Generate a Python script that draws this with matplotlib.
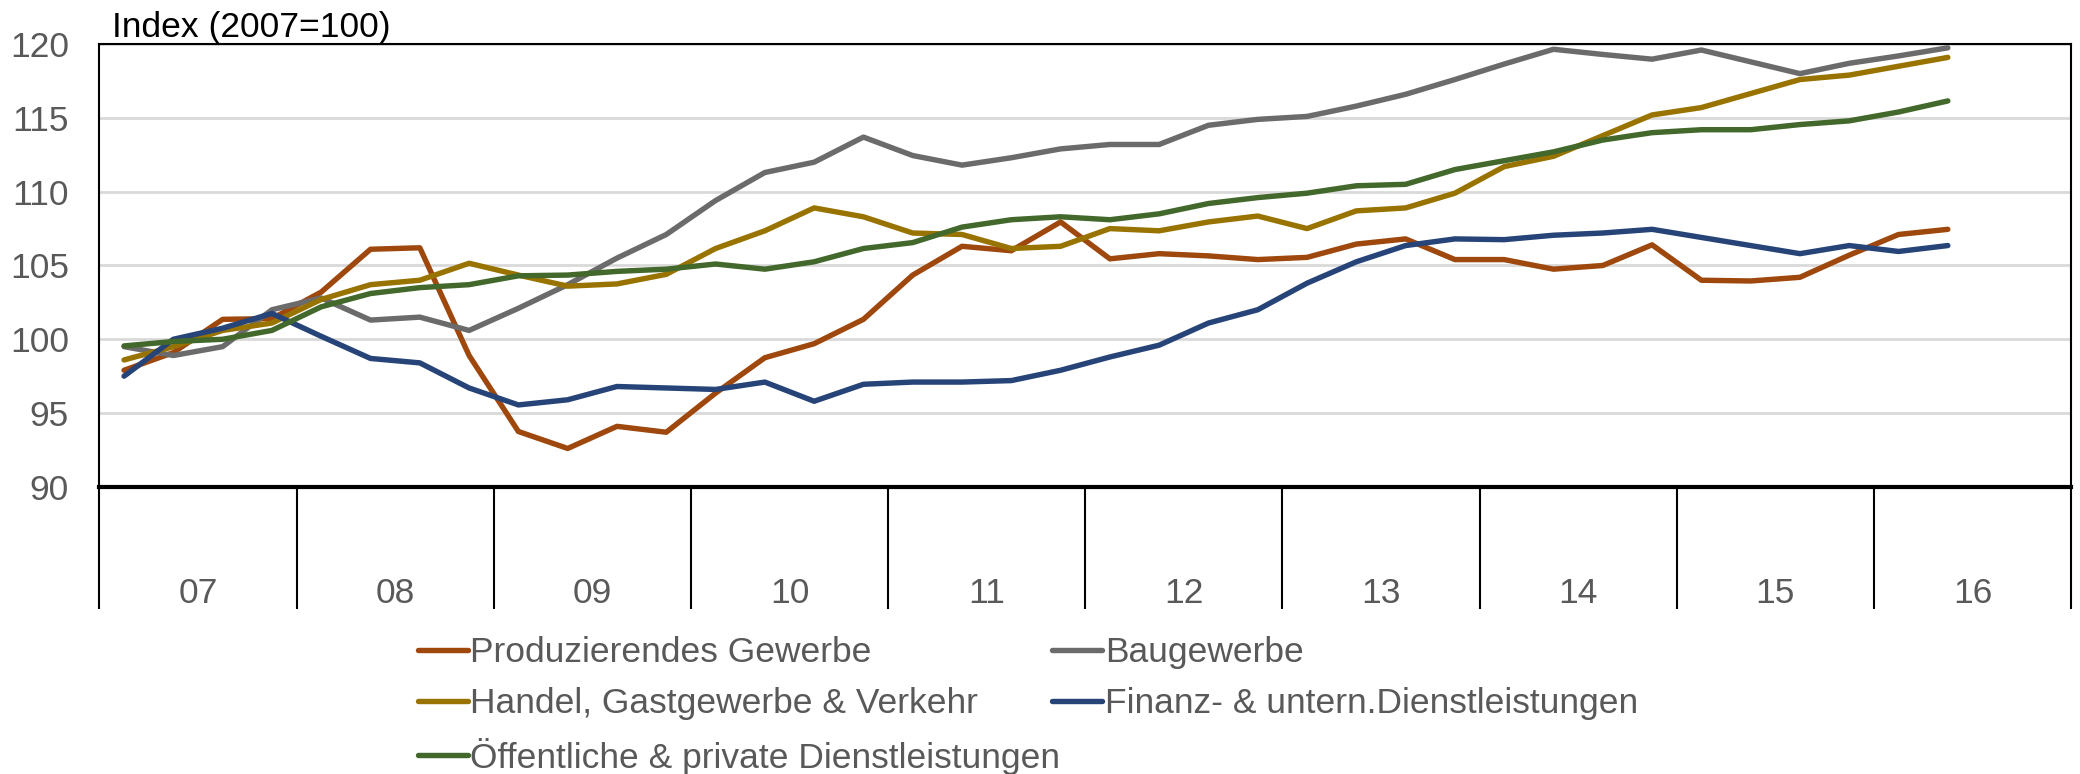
import numpy as np
import matplotlib.pyplot as plt

plt.rcParams['font.family'] = ['Liberation Sans', 'DejaVu Sans']

# Quartalswerte 2007Q1 - 2016Q2, Index 2007=100
jahre = ['07', '08', '09', '10', '11', '12', '13', '14', '15', '16']

produzierendes = [97.9, 99.1, 101.35, 101.4, 103.2, 106.1, 106.2, 98.9, 93.75, 92.6,
                  94.1, 93.7, 96.35, 98.75, 99.7, 101.35, 104.35, 106.3, 106.0, 107.95,
                  105.45, 105.8, 105.65, 105.4, 105.55, 106.45, 106.8, 105.4, 105.4, 104.75,
                  105.0, 106.4, 104.0, 103.95, 104.2, 105.7, 107.1, 107.45]
baugewerbe = [99.5, 98.9, 99.5, 102.0, 102.8, 101.3, 101.5, 100.6, 102.1, 103.7,
              105.5, 107.1, 109.4, 111.3, 112.0, 113.7, 112.45, 111.8, 112.3, 112.9,
              113.2, 113.2, 114.5, 114.9, 115.1, 115.8, 116.6, 117.6, 118.65, 119.65,
              119.3, 118.98, 119.6, 118.8, 118.0, 118.7, 119.2, 119.75]
handel = [98.6, 99.5, 100.6, 101.1, 102.7, 103.7, 104.0, 105.15, 104.35, 103.6,
          103.75, 104.4, 106.15, 107.35, 108.9, 108.3, 107.2, 107.1, 106.15, 106.3,
          107.5, 107.35, 107.95, 108.35, 107.5, 108.7, 108.9, 109.9, 111.7, 112.4,
          113.8, 115.2, 115.7, 116.65, 117.6, 117.9, 118.5, 119.1]
finanz = [97.5, 100.0, 100.75, 101.75, 100.2, 98.7, 98.4, 96.7, 95.55, 95.9,
          96.8, 96.7, 96.6, 97.1, 95.8, 96.95, 97.1, 97.1, 97.2, 97.9,
          98.8, 99.6, 101.1, 102.0, 103.8, 105.25, 106.35, 106.8, 106.75, 107.05,
          107.2, 107.45, 106.9, 106.35, 105.8, 106.35, 105.95, 106.35]
oeffentlich = [99.55, 99.85, 100.0, 100.6, 102.2, 103.1, 103.5, 103.7, 104.3, 104.35,
               104.6, 104.75, 105.1, 104.75, 105.25, 106.15, 106.55, 107.6, 108.1, 108.3,
               108.1, 108.5, 109.2, 109.6, 109.9, 110.4, 110.5, 111.5, 112.1, 112.7,
               113.5, 114.0, 114.2, 114.2, 114.55, 114.8, 115.4, 116.15]

namen = ['Produzierendes Gewerbe', 'Baugewerbe', 'Handel, Gastgewerbe & Verkehr',
         'Finanz- & untern.Dienstleistungen', 'Öffentliche & private Dienstleistungen']
farben = ['#9E480E', '#6B6B6B', '#997300', '#264478', '#43682B']
reihen = [produzierendes, baugewerbe, handel, finanz, oeffentlich]

grau = '#595959'
fs = 25.5
fig = plt.figure(figsize=(20.8, 7.74), dpi=100)
ax = fig.add_axes([0.0478, 0.371, 0.9479, 0.572])

x = np.arange(len(produzierendes)) + 0.5
linien = []
for werte, farbe, name in zip(reihen, farben, namen):
    l, = ax.plot(x, werte, color=farbe, lw=3.9, label=name, solid_capstyle='round',
                 solid_joinstyle='round', zorder=3)
    linien.append(l)

ax.set_xlim(0, 4 * len(jahre))
ax.set_ylim(90, 120)
ax.set_yticks(np.arange(90, 121, 5))
ax.grid(axis='y', color='#D9D9D9', lw=2)
ax.set_axisbelow(True)
ax.tick_params(axis='y', length=0, pad=22, labelsize=fs, labelcolor=grau)

# Jahrestrenner als lange Ticks, Jahreszahlen als Minor-Ticks in der Mitte
ax.set_xticks(np.arange(0, 4 * len(jahre) + 1, 4))
ax.set_xticklabels([])
ax.set_xticks(np.arange(2, 4 * len(jahre), 4), minor=True)
ax.set_xticklabels(jahre, minor=True)
ax.tick_params(axis='x', which='major', length=88, width=1.5, color='black', direction='out')
ax.tick_params(axis='x', which='minor', length=0, pad=65, labelsize=fs, labelcolor=grau)

for s in ['left', 'right', 'top']:
    ax.spines[s].set_linewidth(1.5)
ax.spines['bottom'].set_linewidth(3)

fig.text(0.054, 0.952, 'Index (2007=100)', fontsize=fs, color='black', va='baseline')

leg_kw = dict(frameon=False, fontsize=fs, labelcolor=grau, handlelength=1.4,
              handletextpad=0.08, labelspacing=0.5, borderpad=0, borderaxespad=0)
fig.legend([linien[0], linien[2], linien[4]], [namen[0], namen[2], namen[4]],
           loc='upper left', bbox_to_anchor=(0.201, 0.178), **leg_kw)
fig.legend([linien[1], linien[3]], [namen[1], namen[3]],
           loc='upper left', bbox_to_anchor=(0.506, 0.178), **leg_kw)

fig.savefig('out.png', dpi=100)
